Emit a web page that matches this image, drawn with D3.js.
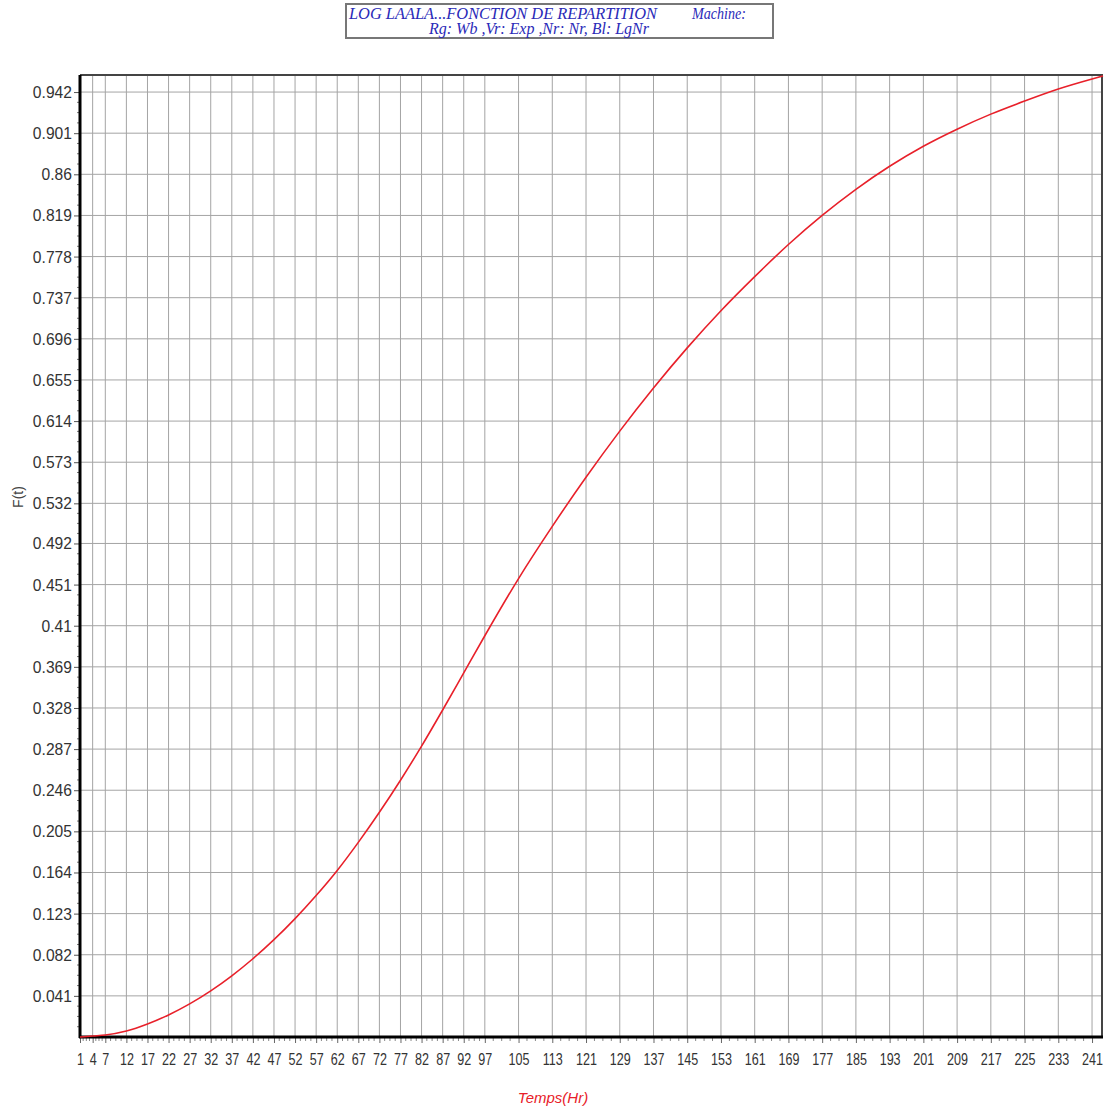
<!DOCTYPE html>
<html>
<head>
<meta charset="utf-8">
<script src="https://cdn.jsdelivr.net/npm/d3@7"></script>
<style>
  body { margin: 0; background: #fff; }
  svg { display: block; }
</style>
</head>
<body>
<div id="chart"></div>
<script>
// data
var times = [1, 4, 7, 12, 17, 22, 27, 32, 37, 42, 47, 52, 57, 62, 67, 72, 77, 82, 87, 92, 97,
  105, 113, 121, 129, 137, 145, 153, 161, 169, 177, 185, 193, 201, 209, 217, 225, 233, 241, 243.6];
var fValues = [0.0, 0.001, 0.002, 0.006, 0.013, 0.022, 0.033, 0.046, 0.061, 0.078, 0.097, 0.118,
  0.141, 0.166, 0.194, 0.224, 0.256, 0.29, 0.326, 0.363, 0.4,
  0.457, 0.509, 0.558, 0.604, 0.647, 0.687, 0.724, 0.758, 0.79, 0.819, 0.845, 0.868, 0.888,
  0.905, 0.92, 0.933, 0.945, 0.955, 0.958];
var xTicks = [1, 4, 7, 12, 17, 22, 27, 32, 37, 42, 47, 52, 57, 62, 67, 72, 77, 82, 87, 92, 97,
  105, 113, 121, 129, 137, 145, 153, 161, 169, 177, 185, 193, 201, 209, 217, 225, 233, 241];
var yTicks = [0.041, 0.082, 0.123, 0.164, 0.205, 0.246, 0.287, 0.328, 0.369, 0.41, 0.451, 0.492,
  0.532, 0.573, 0.614, 0.655, 0.696, 0.737, 0.778, 0.819, 0.86, 0.901, 0.942];
var titleLine1 = "LOG LAALA...FONCTION DE REPARTITION";
var titleMachine = "Machine:";
var titleLine2 = "Rg: Wb  ,Vr: Exp ,Nr: Nr, Bl: LgNr";

var W = 1106, H = 1113;
var margin = {top: 75, right: 3, bottom: 76, left: 80};
var tickFont = "'Liberation Sans', Arial, sans-serif";

var svg = d3.select("#chart").append("svg")
  .attr("width", W).attr("height", H);
svg.append("rect").attr("width", W).attr("height", H).attr("fill", "#fff");

var x = d3.scaleLinear().domain([1, 243.6]).range([margin.left, W - margin.right]);
var y = d3.scaleLinear().domain([0, 0.959]).range([H - margin.bottom, margin.top]);

// grid
var grid = svg.append("g").attr("class", "grid");
grid.selectAll(".vg").data(xTicks).enter().append("line")
  .attr("x1", function(d) { return x(d); }).attr("x2", function(d) { return x(d); })
  .attr("y1", y(0)).attr("y2", y.range()[1])
  .attr("stroke", "#a4a4a4").attr("stroke-width", 1);
grid.selectAll(".hg").data(yTicks).enter().append("line")
  .attr("x1", x.range()[0]).attr("x2", x.range()[1])
  .attr("y1", function(d) { return y(d); }).attr("y2", function(d) { return y(d); })
  .attr("stroke", "#a4a4a4").attr("stroke-width", 1);

// minor ticks: 4 per interval
function minors(ticks, lo, hi) {
  var out = [];
  var all = [lo].concat(ticks);
  for (var i = 0; i < all.length - 1; i++) {
    var a = all[i], b = all[i + 1];
    for (var k = 1; k < 4; k++) out.push(a + (b - a) * k / 4);
  }
  return out.filter(function(v) { return v > lo && v < hi; });
}

// y axis
var ySx = 0.92;
var yAxis = d3.axisLeft(y).tickValues(yTicks)
  .tickFormat(function(d) { return String(d); }).tickSize(6).tickPadding(2);
var gy = svg.append("g").attr("transform", "translate(" + margin.left + ",0)").call(yAxis);
gy.select(".domain").remove();
gy.selectAll(".tick line").attr("stroke", "#555");
gy.selectAll(".tick text").attr("fill", "#333")
  .attr("x", -8 / ySx).attr("transform", "scale(" + ySx + ",1)")
  .style("font-family", tickFont).style("font-size", "17px");
gy.selectAll(".ymin").data(minors(yTicks, 0, 0.959)).enter().append("line")
  .attr("x1", -3).attr("x2", 0)
  .attr("y1", function(d) { return y(d); }).attr("y2", function(d) { return y(d); })
  .attr("stroke", "#777");

// x axis
var xSx = 0.74;
var xAxis = d3.axisBottom(x).tickValues(xTicks)
  .tickFormat(d3.format("d")).tickSize(6).tickPadding(10);
var gx = svg.append("g").attr("transform", "translate(0," + y(0) + ")").call(xAxis);
gx.select(".domain").remove();
gx.selectAll(".tick line").attr("stroke", "#666");
gx.selectAll(".tick text").attr("fill", "#333")
  .attr("transform", "scale(" + xSx + ",1)")
  .style("font-family", tickFont).style("font-size", "17px");
gx.selectAll(".xmin").data(minors(xTicks, 1, 243.6)).enter().append("line")
  .attr("x1", function(d) { return x(d); }).attr("x2", function(d) { return x(d); })
  .attr("y1", 0).attr("y2", 4)
  .attr("stroke", "#888");

// frame: thin top/right, thick left/bottom
svg.append("line").attr("x1", x.range()[0]).attr("x2", x.range()[1])
  .attr("y1", y.range()[1]).attr("y2", y.range()[1]).attr("stroke", "#444").attr("stroke-width", 2);
svg.append("line").attr("x1", x.range()[1] - 1).attr("x2", x.range()[1] - 1)
  .attr("y1", y.range()[1]).attr("y2", y(0)).attr("stroke", "#444").attr("stroke-width", 2);
svg.append("line").attr("x1", x.range()[0]).attr("x2", x.range()[0])
  .attr("y1", y.range()[1]).attr("y2", y(0) + 1).attr("stroke", "#000").attr("stroke-width", 3);
svg.append("line").attr("x1", x.range()[0] - 1).attr("x2", x.range()[1])
  .attr("y1", y(0)).attr("y2", y(0)).attr("stroke", "#000").attr("stroke-width", 3);

// curve
var line = d3.line()
  .x(function(d, i) { return x(times[i]); })
  .y(function(d) { return y(d); })
  .curve(d3.curveMonotoneX);
svg.append("path").datum(fValues)
  .attr("d", line)
  .attr("fill", "none").attr("stroke", "#e8202a").attr("stroke-width", 1.6);

// axis titles
svg.append("text").attr("x", 553).attr("y", 1103)
  .attr("text-anchor", "middle").attr("fill", "#e8202a")
  .style("font-family", tickFont)
  .style("font-size", "15px").style("font-style", "italic")
  .text("Temps(Hr)");
svg.append("text").attr("transform", "translate(23,497) rotate(-90)")
  .attr("text-anchor", "middle").attr("fill", "#444")
  .style("font-family", tickFont)
  .style("font-size", "14px")
  .text("F(t)");

// title box
var tb = svg.append("g");
tb.append("rect").attr("x", 346).attr("y", 4).attr("width", 427).attr("height", 34)
  .attr("fill", "#fff").attr("stroke", "#777").attr("stroke-width", 2);
var tfont = "'Liberation Serif', 'Times New Roman', serif";
tb.append("text").attr("x", 349).attr("y", 19)
  .attr("textLength", 308).attr("lengthAdjust", "spacingAndGlyphs")
  .attr("fill", "#2a2ab8").style("font-family", tfont).style("font-style", "italic")
  .style("font-size", "16px").text(titleLine1);
tb.append("text").attr("x", 692).attr("y", 19)
  .attr("textLength", 54).attr("lengthAdjust", "spacingAndGlyphs")
  .attr("fill", "#2a2ab8").style("font-family", tfont).style("font-style", "italic")
  .style("font-size", "16px").text(titleMachine);
tb.append("text").attr("x", 429).attr("y", 34)
  .attr("textLength", 220).attr("lengthAdjust", "spacingAndGlyphs")
  .attr("fill", "#2a2ab8").style("font-family", tfont).style("font-style", "italic")
  .style("font-size", "16px").text(titleLine2);
</script>
</body>
</html>
